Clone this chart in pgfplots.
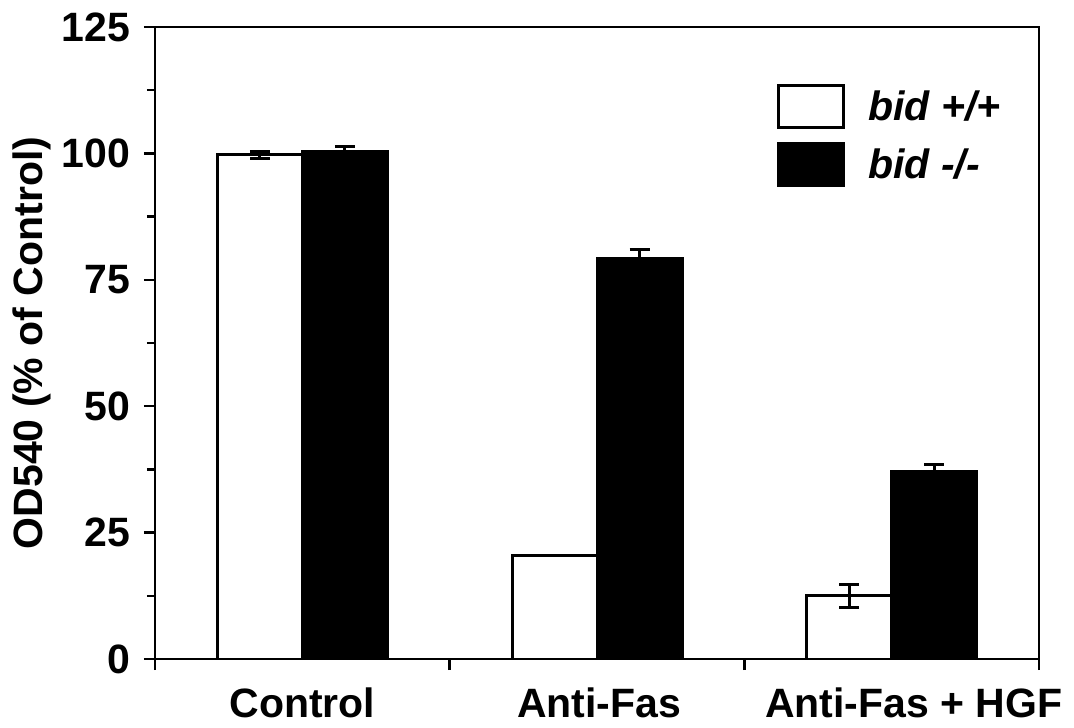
\documentclass[border=0pt]{standalone}
\usepackage{fontspec}
\setmainfont{Liberation Sans}
\usepackage{pgfplots}
\pgfplotsset{compat=1.18}
\newcommand\F{\fontsize{20.5}{24}\selectfont\bfseries}
\begin{document}
\begin{tikzpicture}
\begin{axis}[
  scale only axis, width=442pt, height=316pt,
  xmin=0, xmax=3, ymin=0, ymax=125,
  axis line style={line width=1.3pt},
  ybar=0pt, bar width=42.5pt,
  xtick={0,1,2,3}, xticklabels={},
  extra x ticks={0.5,1.5,2.5},
  extra x tick labels={Control, \hspace*{2pt}Anti-Fas, \hspace*{22pt}Anti-Fas + HGF},
  extra x tick style={major tick length=0pt},
  ytick={0,25,50,75,100,125},
  minor ytick={12.5,37.5,62.5,87.5,112.5},
  tick align=outside, xtick pos=bottom, ytick pos=left,
  major tick length=5.5pt, minor tick length=4pt,
  tick style={line width=1.2pt, black},
  /pgf/number format/assume math mode=true,
  ticklabel style={font=\F},
  yticklabel style={xshift=-3.5pt},
  xticklabel style={yshift=-11pt},
  ylabel={OD540 (\% of Control)},
  ylabel style={font=\F, at={(rel axis cs:-0.1390,0.5)}, anchor=center},
  legend image code/.code={\draw[#1] (0pt,-10.5pt) rectangle (32.5pt,10.5pt); \path (44pt,0pt);},
  legend style={at={(rel axis cs:0.7036,0.9098)}, anchor=north west, draw=none, fill=none,
    inner sep=0pt, row sep=6.5pt, nodes={inner sep=0pt}, cells={anchor=west},
    font=\F\itshape},
]
\addplot[fill=white, draw=black, line width=1.5pt,
  error bars/.cd, y dir=both, y explicit,
  error bar style={line width=1.5pt, black},
  error mark options={rotate=90, mark size=5pt, line width=1.5pt, black}]
  coordinates {(0.5,99.7) +- (0,0.7) (1.5,20.4) +- (0,0) (2.5,12.5) +- (0,2.3)};
\addlegendentry{bid +/+}
\addplot[fill=black, draw=black, line width=1.5pt,
  error bars/.cd, y dir=plus, y explicit,
  error bar style={line width=1.5pt, black},
  error mark options={rotate=90, mark size=5pt, line width=1.5pt, black}]
  coordinates {(0.5,100.3) +- (0,1.0) (1.5,79.3) +- (0,1.6) (2.5,37.0) +- (0,1.4)};
\addlegendentry{bid -/-}
\end{axis}
\pgfresetboundingbox
\path ([xshift=-77.5pt,yshift=-34pt]current axis.south west) rectangle ([xshift=17.5pt,yshift=13.5pt]current axis.north east);
\end{tikzpicture}
\end{document}
